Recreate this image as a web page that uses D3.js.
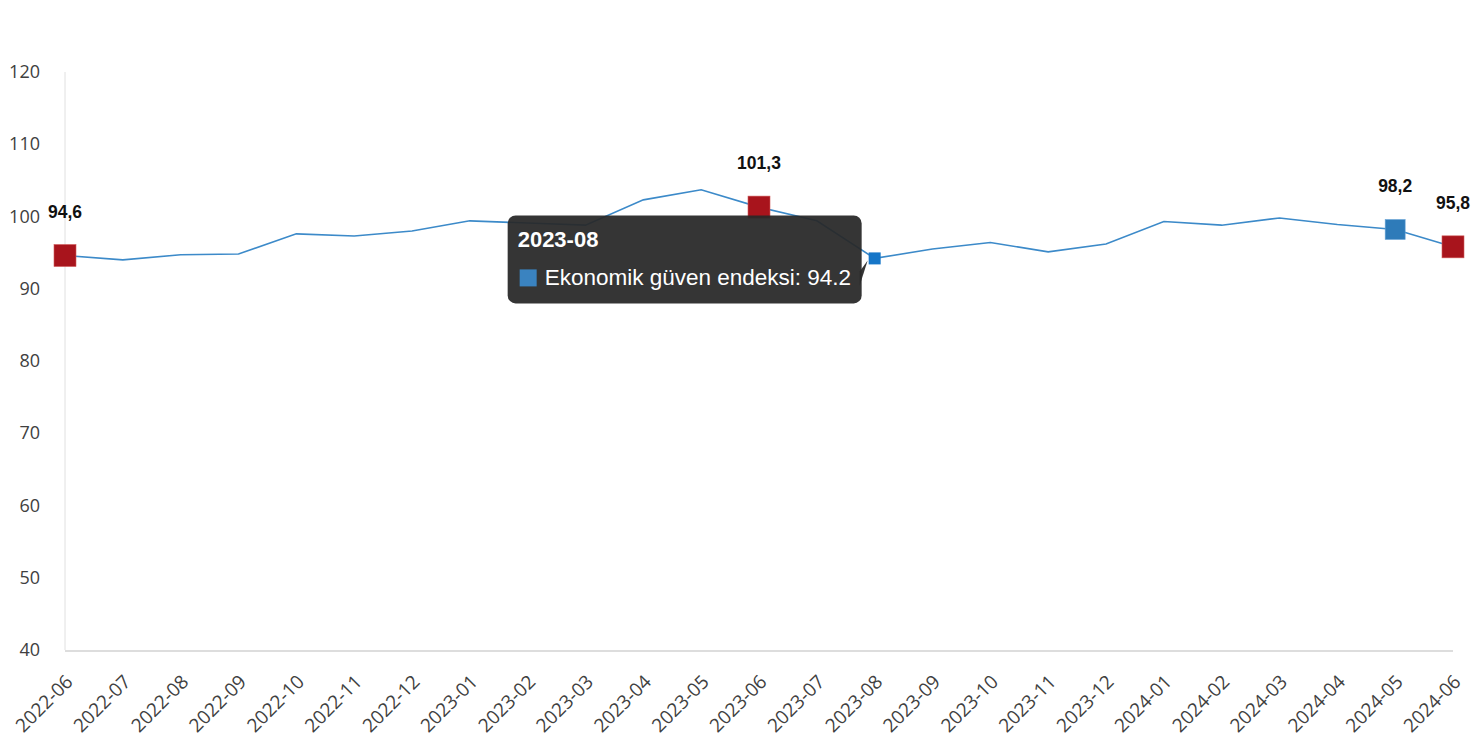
<!DOCTYPE html>
<html><head><meta charset="utf-8">
<script src="https://cdn.jsdelivr.net/npm/d3@7"></script>
<style>body{margin:0;background:#fff;}svg{display:block;}</style>
</head><body>
<svg id="c" width="1477" height="750"></svg>
<script>
const categories = ["2022-06","2022-07","2022-08","2022-09","2022-10","2022-11","2022-12","2023-01","2023-02","2023-03","2023-04","2023-05","2023-06","2023-07","2023-08","2023-09","2023-10","2023-11","2023-12","2024-01","2024-02","2024-03","2024-04","2024-05","2024-06"];
const values = [94.6,94.0,94.7,94.8,97.6,97.3,98.0,99.4,99.1,98.8,102.3,103.7,101.3,99.4,94.2,95.5,96.4,95.1,96.2,99.3,98.8,99.8,98.9,98.2,95.8];
const yTicks = [40,50,60,70,80,90,100,110,120];
const redMarked = ["2022-06","2023-06","2024-06"];
const blueMarked = ["2024-05"];
const hoverCat = "2023-08";
const seriesName = "Ekonomik güven endeksi";

const svg = d3.select("#c");
const x = d3.scalePoint().domain(categories).range([65,1453]);
const y = d3.scaleLinear().domain([40,120]).range([650,72]);
const axisFont = "'Open Sans', 'Segoe UI', sans-serif";

// y axis labels
svg.append("g").selectAll("text").data(yTicks).join("text")
  .attr("x",40).attr("y",d=>y(d)+6).attr("text-anchor","end")
  .attr("font-family",axisFont).attr("font-size",18).attr("fill","#404040").text(d=>d);
// axis lines
svg.append("line").attr("x1",65).attr("x2",65).attr("y1",72).attr("y2",650).attr("stroke","#e0e0e0").attr("stroke-width",1);
svg.append("line").attr("x1",65).attr("x2",1453).attr("y1",651).attr("y2",651).attr("stroke","#ddd").attr("stroke-width",2);
// x labels
svg.append("g").selectAll("text").data(categories).join("text")
  .attr("transform",d=>`translate(${x(d)+9},${683}) rotate(-45)`).attr("text-anchor","end")
  .attr("font-family",axisFont).attr("font-size",19).attr("fill","#404040").text(d=>d);

const data = categories.map((c,i)=>({c,v:values[i]}));
svg.append("path").datum(data)
  .attr("d",d3.line().x(d=>x(d.c)).y(d=>y(d.v)))
  .attr("fill","none").attr("stroke","#3c8ac9").attr("stroke-width",1.6);

const big = 22;
svg.append("g").selectAll("rect").data(data.filter(d=>redMarked.includes(d.c))).join("rect")
  .attr("x",d=>x(d.c)-big/2).attr("y",d=>y(d.v)-big/2).attr("width",big).attr("height",big)
  .attr("fill","#a8141c").attr("stroke","#d05a5a").attr("stroke-width",0.6);
svg.append("g").selectAll("rect").data(data.filter(d=>blueMarked.includes(d.c))).join("rect")
  .attr("x",d=>x(d.c)-10).attr("y",d=>y(d.v)-10).attr("width",20).attr("height",20)
  .attr("fill","#2e7bb9").attr("stroke","#6aa6d8").attr("stroke-width",0.6);
const hv = data.find(d=>d.c===hoverCat);
svg.append("rect").attr("x",x(hv.c)-6).attr("y",y(hv.v)-6).attr("width",12).attr("height",12).attr("fill","#1676c8");

// value labels
svg.append("g").selectAll("text").data(data.filter(d=>redMarked.includes(d.c)||blueMarked.includes(d.c))).join("text")
  .attr("x",d=>x(d.c)).attr("y",d=>y(d.v)-38).attr("text-anchor","middle")
  .attr("font-family","'Liberation Sans', Arial, sans-serif").attr("font-weight","bold").attr("font-size",17.5).attr("fill","#111")
  .text(d=>d3.format(".1f")(d.v).replace(".",","));

// tooltip
const tx = x(hv.c)-367, ty = y(hv.v)-43;
const tg = svg.append("g").attr("transform",`translate(${tx},${ty})`);
tg.append("rect").attr("width",354).attr("height",88).attr("rx",8).attr("fill","rgba(40,40,40,0.94)");
tg.append("path").attr("d","M352,56 L360,45 L352,70 Z").attr("fill","rgba(40,40,40,0.94)");
tg.append("text").attr("x",10).attr("y",32).attr("font-family","'Liberation Sans', Arial, sans-serif").attr("font-weight","bold").attr("font-size",22).attr("fill","#fff").text(hv.c);
tg.append("rect").attr("x",12).attr("y",54).attr("width",17).attr("height",17).attr("fill","#3a83c0");
tg.append("text").attr("x",37).attr("y",70).attr("font-family","'Liberation Sans', Arial, sans-serif").attr("font-size",22.5).attr("fill","#fff").text(`${seriesName}: ${hv.v}`);
</script>
</body></html>
